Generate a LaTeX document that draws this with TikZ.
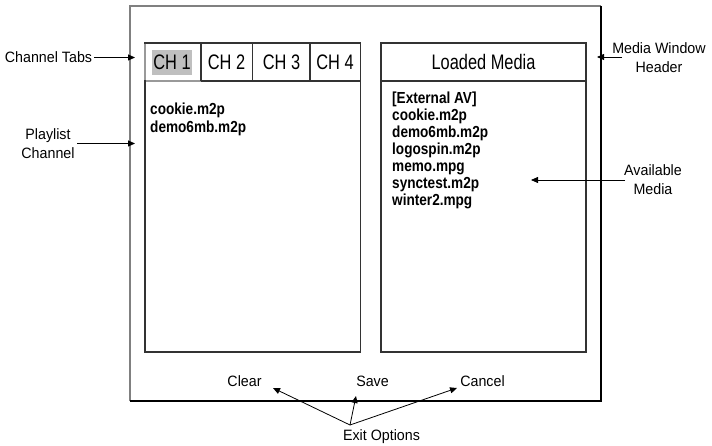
\documentclass[tikz,border=0pt]{standalone}
\usepackage{fontspec}
\setmainfont{Liberation Sans}
\usetikzlibrary{arrows.meta}
\newcommand\lbs[1]{\scalebox{0.95}[1]{#1}}
\newcommand\tbs[1]{\scalebox{0.78}[1]{#1}}
\newcommand\its[1]{\scalebox{0.85}[1]{#1}}
\begin{document}
\begin{tikzpicture}[x=1pt,y=-1pt,
  lbl/.style={font=\fontsize{15}{19}\selectfont, inner sep=0pt, align=center},
  tabtxt/.style={font=\fontsize{21}{25}\selectfont, inner sep=0pt, text height=15pt, text depth=0pt},
  itemtxt/.style={font=\fontsize{16}{17}\selectfont\bfseries, inner sep=0pt, anchor=west, text height=11.5pt, text depth=0pt},
  pointer/.style={-{Triangle[length=7pt,width=6pt]}, line width=0.8pt},
  panel/.style={line width=1.2pt, draw=black!80},
]
\useasboundingbox (0,0) rectangle (712,446);
\fill[white] (0,0) rectangle (712,446);

% outer frame
\draw[black!50, line width=1.3pt] (130,401) -- (130,6) -- (601,6);
\draw[black, line width=1.3pt] (601,6) -- (601,401) -- (130,401);

% left panel (playlist)
\fill[black!25] (152,50) rectangle (192,75);
\draw[panel] (145,43) rectangle (360.5,352);
\draw[panel] (201,81) -- (360.5,81);
\draw[black!40, line width=1.2pt] (145.6,81) -- (201,81);
\draw[black!40, line width=1.2pt] (145,43.6) -- (145,80.4);
\draw[panel] (201,43) -- (201,81);
\draw[panel] (252.5,43) -- (252.5,81);
\draw[panel] (310,43) -- (310,81);
\node[tabtxt] (ch1) at (172,62.5) {\tbs{CH 1}};
\node[tabtxt] (ch2) at (226.5,62.5) {\tbs{CH 2}};
\node[tabtxt] (ch3) at (281.5,62.5) {\tbs{CH 3}};
\node[tabtxt] (ch4) at (335,62.5) {\tbs{CH 4}};
\node[itemtxt] (pl1) at (150,109) {\its{cookie.m2p}};
\node[itemtxt] (pl2) at (150,126.5) {\its{demo6mb.m2p}};

% right panel (loaded media)
\draw[panel] (381,43) rectangle (586,352);
\draw[panel] (381,81) -- (586,81);
\node[tabtxt] (lm) at (483.5,62.5) {\tbs{Loaded Media}};
\foreach \t [count=\i from 0] in {[External AV],cookie.m2p,demo6mb.m2p,logospin.m2p,memo.mpg,synctest.m2p,winter2.mpg}
  \node[itemtxt] (md\i) at (392,97.5+17*\i) {\its{\t}};

% buttons
\node[lbl] (clear) at (244.5,381.5) {\lbs{Clear}};
\node[lbl] (save) at (372.5,381.5) {\lbs{Save}};
\node[lbl] (cancel) at (482.5,381.5) {\lbs{Cancel}};

% annotation labels
\node[lbl] (ct) at (48.5,57.5) {\lbs{Channel Tabs}};
\node[lbl] (pc) at (48,143.5) {\lbs{Playlist}\\\lbs{Channel}};
\node[lbl] (mw) at (659,58) {\lbs{Media Window}\\\lbs{Header}};
\node[lbl] (am) at (653,179.5) {\lbs{Available}\\\lbs{Media}};
\node[lbl] (ex) at (381.5,436.5) {\lbs{Exit Options}};

% pointer coordinates
\coordinate (ctTip) at (135,57.5);
\coordinate (pcStart) at (77,143.5);
\coordinate (pcTip) at (135,143.5);
\coordinate (mwStart) at (622,57);
\coordinate (mwTip) at (597,57);
\coordinate (amStart) at (625,180);
\coordinate (amTip) at (531,180);
\coordinate (exHub) at (350,425);
\coordinate (clearTip) at (273,388);
\coordinate (saveTip) at (356,396);
\coordinate (cancelTip) at (457,388);

\draw[pointer] ([xshift=2pt]ct.east) -- (ctTip);
\draw[pointer] (pcStart) -- (pcTip);
\draw[pointer] (mwStart) -- (mwTip);
\draw[pointer] (amStart) -- (amTip);
\draw[pointer] (exHub) -- (clearTip);
\draw[pointer] (exHub) -- (saveTip);
\draw[pointer] (exHub) -- (cancelTip);
\end{tikzpicture}
\end{document}
